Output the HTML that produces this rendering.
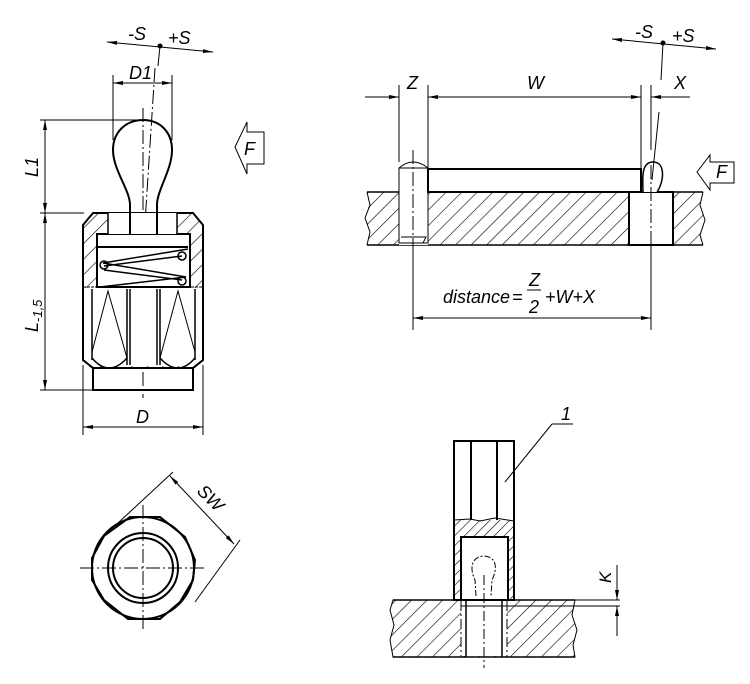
<!DOCTYPE html>
<html><head><meta charset="utf-8"><style>
html,body{margin:0;padding:0;background:#fff;}
svg{display:block;}
text{font-family:"Liberation Sans",sans-serif;font-style:italic;fill:#000;}
</style></head><body>
<svg width="750" height="684" viewBox="0 0 750 684" xmlns="http://www.w3.org/2000/svg">
<defs>
<pattern id="h" width="11" height="11" patternUnits="userSpaceOnUse" patternTransform="rotate(45)">
<line x1="0" y1="0" x2="0" y2="11" stroke="#000" stroke-width="1.2"/>
</pattern>
<pattern id="hs" width="7" height="7" patternUnits="userSpaceOnUse" patternTransform="rotate(45)">
<line x1="0" y1="0" x2="0" y2="7" stroke="#000" stroke-width="1.2"/>
</pattern>
<marker id="a" viewBox="0 0 10 4" refX="10" refY="2" markerWidth="10" markerHeight="4" markerUnits="userSpaceOnUse" orient="auto-start-reverse">
<path d="M0,0 L10,2 L0,4z" fill="#000"/>
</marker>
</defs>

<g fill="none" stroke="#000" stroke-width="1">
<line x1="107" y1="42" x2="213" y2="52" marker-start="url(#a)" marker-end="url(#a)"/>
<circle cx="160" cy="46" r="2" fill="#000"/>
<line x1="160" y1="46" x2="158" y2="66"/>
<line x1="113" y1="75" x2="113" y2="140"/>
<line x1="172" y1="75" x2="172" y2="140"/>
<line x1="113" y1="83" x2="172" y2="83" marker-start="url(#a)" marker-end="url(#a)"/>
<line x1="40" y1="120" x2="140" y2="120"/>
<line x1="40" y1="213" x2="84" y2="213"/>
<line x1="45" y1="120" x2="45" y2="213" marker-start="url(#a)" marker-end="url(#a)"/>
<line x1="45" y1="213" x2="45" y2="390" marker-start="url(#a)" marker-end="url(#a)"/>
<line x1="40" y1="390" x2="93" y2="390"/>
<line x1="83" y1="365" x2="83" y2="435"/>
<line x1="203" y1="365" x2="203" y2="435"/>
<line x1="83" y1="427" x2="203" y2="427" marker-start="url(#a)" marker-end="url(#a)"/>
<path d="M235,147 L247,122 L247,132 L264,132 L264,164 L247,164 L247,174 Z"/>
<line x1="143" y1="108" x2="143" y2="398" stroke-dasharray="14,3,2,3"/>
<line x1="155" y1="68" x2="140" y2="300" stroke-dasharray="14,3,2,3"/>
</g>

<g fill="none" stroke="#000" stroke-width="2">
<path d="M130,232 L130,205 C130,190 113,170 113,150 C113,132 126,120 143,120 C160,120 172,132 172,150 C172,170 157,190 157,205 L157,232"/>
<path d="M93,213 L193,213 L203,225 L203,360 L193,368 L93,368 L83,360 L83,225 Z" fill="url(#h)"/>
<rect x="97" y="234" width="93" height="53" fill="#fff"/>
<rect x="108" y="213" width="69" height="21" fill="#fff" stroke="none"/>
<line x1="108" y1="213" x2="108" y2="234" stroke-width="1.5"/>
<line x1="177" y1="213" x2="177" y2="234" stroke-width="1.5"/>
<line x1="130" y1="213" x2="130" y2="234"/>
<line x1="157" y1="213" x2="157" y2="234"/>
<rect x="84" y="288" width="118" height="78" fill="#fff" stroke="none"/>
<path d="M83,288 L83,360 L93,368 L193,368 L203,360 L203,288"/>
<rect x="93" y="368" width="100" height="22"/>
<line x1="83" y1="287" x2="203" y2="287" stroke-width="1" stroke-dasharray="3,1"/>
<line x1="98" y1="247" x2="188" y2="247"/>
<path d="M188,249 L103,263 L186,277 L100,287" stroke-width="1.5"/>
<path d="M104,266 L182,256 M104,270 L182,280" stroke-width="1.5"/>
<circle cx="104" cy="265" r="4" stroke-width="1.5"/>
<circle cx="182" cy="256" r="4" stroke-width="1.5"/>
<circle cx="182" cy="281" r="4" stroke-width="1.5"/>
</g>
<g fill="none" stroke="#000" stroke-width="1.5">
<line x1="92" y1="289" x2="92" y2="360"/>
<line x1="127" y1="289" x2="127" y2="365"/>
<line x1="130" y1="289" x2="130" y2="365"/>
<line x1="157" y1="289" x2="157" y2="365"/>
<line x1="160" y1="289" x2="160" y2="365"/>
<line x1="195" y1="289" x2="195" y2="360"/>
<path d="M92,352 L108,291 L127,358 M160,358 L178,291 L195,352" stroke-width="1"/>
<path d="M92,358 Q109,378 127,358 M160,358 Q178,378 195,358"/>
</g>

<g fill="none" stroke="#000">
<path d="M130,517 L160,517 L185,537 L195,560 L193,580 L180,602 L160,619 L128,619 L104,600 L92,580 L92,558 L104,536 Z" stroke-width="2"/>
<circle cx="143" cy="568" r="51" stroke-width="2"/>
<circle cx="143" cy="568" r="35" stroke-width="2"/>
<circle cx="143" cy="568" r="30" stroke-width="2"/>
<line x1="80" y1="568" x2="206" y2="568" stroke-dasharray="14,3,2,3"/>
<line x1="143" y1="505" x2="143" y2="632" stroke-dasharray="14,3,2,3"/>
<line x1="104" y1="536" x2="173" y2="472"/>
<line x1="195" y1="602" x2="240" y2="540"/>
<line x1="170" y1="476" x2="234" y2="544" marker-start="url(#a)" marker-end="url(#a)"/>
</g>

<g fill="none" stroke="#000" stroke-width="1">
<path d="M367,192 L703,192 L700,205 L705,220 L700,235 L703,245 L367,245 L370,232 L365,218 L369,205 Z" fill="url(#h)" stroke="none"/>
<line x1="367" y1="192" x2="703" y2="192" stroke-width="1.6"/>
<line x1="367" y1="245" x2="703" y2="245" stroke-width="1.6"/>
<path d="M367,192 L370,205 L365,218 L370,232 L367,245"/>
<path d="M703,192 L700,205 L705,220 L700,235 L703,245"/>
<rect x="399" y="162" width="29" height="83" fill="#fff" stroke="none"/>
<path d="M399,243 L399,168 Q413,156 428,168 L428,243 Z"/>
<path d="M399,168 L428,168 M401,237 L426,237 L423,243 L404,243"/>
<rect x="629" y="192" width="44" height="53" fill="#fff" stroke-width="2"/>
<rect x="428" y="169" width="213" height="23" fill="#fff" stroke-width="2"/>
<path d="M643,192 C643,182 640,162 653,162 C666,162 664,182 657,192" fill="#fff" stroke-width="1.5"/>
<line x1="413" y1="150" x2="413" y2="330" stroke-dasharray="14,3,2,3"/>
<line x1="651" y1="165" x2="651" y2="250" stroke-dasharray="14,3,2,3"/>
<line x1="413" y1="245" x2="413" y2="330"/>
<line x1="651" y1="245" x2="651" y2="330"/>
<line x1="659" y1="112" x2="652" y2="180"/>
<line x1="399" y1="85" x2="399" y2="162"/>
<line x1="428" y1="85" x2="428" y2="169"/>
<line x1="641" y1="85" x2="641" y2="169"/>
<line x1="651" y1="85" x2="651" y2="150"/>
<line x1="365" y1="97" x2="399" y2="97" marker-end="url(#a)"/>
<line x1="428" y1="97" x2="641" y2="97" marker-start="url(#a)" marker-end="url(#a)"/>
<line x1="651" y1="97" x2="690" y2="97" marker-start="url(#a)"/>
<line x1="612" y1="39" x2="716" y2="49" marker-start="url(#a)" marker-end="url(#a)"/>
<circle cx="663" cy="43" r="2" fill="#000"/>
<line x1="663" y1="43" x2="661" y2="80"/>
<line x1="413" y1="318" x2="651" y2="318" marker-start="url(#a)" marker-end="url(#a)"/>
<path d="M697,172 L710,155 L710,162 L734,162 L734,183 L710,183 L710,190 Z"/>
<line x1="527" y1="290" x2="541" y2="290"/>
</g>

<g fill="none" stroke="#000" stroke-width="1">
<path d="M393,600 L575,600 L572,615 L577,630 L573,645 L575,657 L393,657 L390,640 L394,625 L390,610 Z" fill="url(#h)"/>
<line x1="393" y1="600" x2="575" y2="600" stroke-width="1.6"/>
<line x1="393" y1="657" x2="575" y2="657" stroke-width="1.6"/>
<rect x="461" y="601" width="46" height="55" fill="#fff" stroke="none"/>
<line x1="461" y1="601" x2="461" y2="657" stroke-dasharray="10,3,2,3"/>
<line x1="507" y1="601" x2="507" y2="657" stroke-dasharray="10,3,2,3"/>
<line x1="466" y1="601" x2="466" y2="657" stroke-width="1.5"/>
<line x1="502" y1="601" x2="502" y2="657" stroke-width="1.5"/>
<rect x="454" y="520" width="60" height="80" fill="url(#hs)" stroke="none"/>
<rect x="461" y="537" width="47" height="63" fill="#fff" stroke-width="2"/>
<rect x="454" y="441" width="60" height="159" stroke-width="2"/>
<rect x="455" y="442" width="58" height="77" fill="#fff" stroke="none"/>
<line x1="471" y1="441" x2="471" y2="520" stroke-width="2"/>
<line x1="497" y1="441" x2="497" y2="520" stroke-width="2"/>
<path d="M454,520 L470,519 L480,521 L495,518 L514,521"/>
<path d="M476,596 L475,580 C470,570 470,557 484,556 C498,557 497,570 492,580 L491,596" stroke-dasharray="6,2,2,2"/>
<line x1="484" y1="575" x2="484" y2="668" stroke-dasharray="10,3,2,3"/>
<line x1="461" y1="606" x2="620" y2="606"/>
<line x1="575" y1="600" x2="620" y2="600"/>
<line x1="617" y1="565" x2="617" y2="600" marker-end="url(#a)"/>
<line x1="617" y1="606" x2="617" y2="636" marker-start="url(#a)"/>
<line x1="505" y1="482" x2="552" y2="424"/>
<line x1="552" y1="424" x2="573" y2="424"/>
</g>

<text x="128" y="40" font-size="18">-S</text>
<text x="168" y="44" font-size="18">+S</text>
<text x="129" y="79" font-size="18">D1</text>
<text x="136" y="423" font-size="18">D</text>
<text x="244" y="155" font-size="18">F</text>
<text x="38" y="177" font-size="18" transform="rotate(-90 38 177)">L1</text>
<text x="38" y="332" font-size="18" transform="rotate(-90 38 332)">L<tspan font-size="13" dy="4">-1,5</tspan></text>
<text x="196" y="492" font-size="18" transform="rotate(45 196 492)">SW</text>
<text x="407" y="89" font-size="18">Z</text>
<text x="527" y="89" font-size="18">W</text>
<text x="674" y="89" font-size="18">X</text>
<text x="635" y="38" font-size="18">-S</text>
<text x="672" y="42" font-size="18">+S</text>
<text x="716" y="178" font-size="18">F</text>
<text x="443" y="303" font-size="18">distance</text>
<text x="512" y="303" font-size="18">=</text>
<text x="529" y="286" font-size="18">Z</text>
<text x="529" y="313" font-size="18">2</text>
<text x="545" y="303" font-size="18">+W+X</text>
<text x="561" y="420" font-size="18">1</text>
<text x="611" y="583" font-size="17" transform="rotate(-90 611 583)">K</text>
</svg>
</body></html>
